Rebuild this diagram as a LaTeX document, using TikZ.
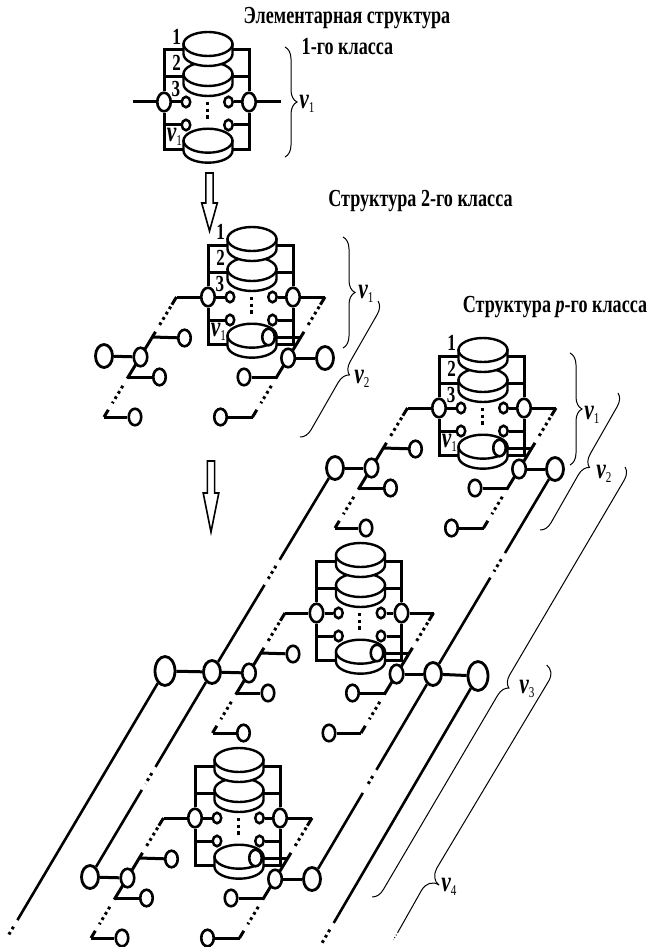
\documentclass[tikz,border=0pt]{standalone}
\usepackage{fontspec}
\setmainfont[FakeStretch=0.74]{Liberation Serif}
\usetikzlibrary{shapes.geometric,calc,decorations.pathreplacing}

\tikzset{
    wire/.style={line width=3pt},
    longwire/.style={line width=2.6pt},
    dotwire/.style={line width=3pt, dash pattern=on 2.8pt off 3.4pt},
    diskline/.style={line width=2.4pt, fill=white},
    smallnode/.style={ellipse, draw, fill=white, line width=2.5pt, inner sep=0pt, minimum width=8.5pt, minimum height=10.5pt},
    endnode/.style={ellipse, draw, fill=white, line width=2.6pt, inner sep=0pt, minimum width=12.5pt, minimum height=16.5pt},
    busnode/.style={ellipse, draw, fill=white, line width=2.6pt, inner sep=0pt, minimum width=13.5pt, minimum height=18.5pt},
    outernode/.style={ellipse, draw, fill=white, line width=2.8pt, inner sep=0pt, minimum width=17pt, minimum height=23pt},
    bignode/.style={ellipse, draw, fill=white, line width=2.8pt, inner sep=0pt, minimum width=20pt, minimum height=29pt},
    arrowbox/.style={line width=1.6pt, fill=white},
    bracket/.style={line width=1pt, decorate, decoration={brace, amplitude=12pt}},
    bracketplain/.style={line width=1pt},
    titletext/.style={font=\fontsize{24.5}{24.5}\selectfont\bfseries, inner sep=0pt},
    numtext/.style={font=\fontsize{23}{23}\selectfont\bfseries, inner sep=0pt},
    sizetext/.style={font=\fontsize{29}{29}\selectfont\bfseries\itshape, inner sep=0pt}
}

\newcommand{\sublab}[1]{\raisebox{-0.3ex}{\fontsize{15}{15}\selectfont\upshape\mdseries #1}}

% one disk: x, y of the top ellipse
\newcommand{\disk}[2]{
    \draw[diskline] (#1-24.5,#2) -- (#1-24.5,#2+10) arc[start angle=180, end angle=360, x radius=24.5pt, y radius=12pt] -- (#1+24.5,#2) -- cycle;
    \draw[diskline] (#1,#2) ellipse[x radius=24.5pt, y radius=12pt];
}

% elementary structure: x, y, name
\newcommand{\elemstruct}[3]{
    \begin{scope}[shift={(#1,#2)}]
        \coordinate (#3tl) at (-74,0);
        \coordinate (#3tr) at (74.5,0);
        \node[busnode] (#3L) at (-42.5,0) {};
        \node[busnode] (#3R) at (42.5,0) {};
        \node[smallnode] (#3a) at (-20.5,0) {};
        \node[smallnode] (#3b) at (22,0) {};
        \node[smallnode] (#3c) at (-20.5,23) {};
        \node[smallnode] (#3d) at (22,23) {};
        \draw[wire] (#3L) -- (-42.5,-52) -- (42.5,-52) -- (#3R);
        \draw[wire] (#3L) -- (-42.5,47) -- (42.5,47) -- (#3R);
        \draw[wire] (-42.5,-25) -- (42.5,-25);
        \draw[wire] (-42.5,23) -- (#3c);
        \draw[wire] (42.5,23) -- (#3d);
        \draw[wire] (#3L) -- (#3a);
        \draw[wire] (#3R) -- (#3b);
        \draw[wire] (#3tl) -- (#3L);
        \draw[wire] (#3R) -- (#3tr);
        \disk{1.5}{38.7}
        \disk{1.5}{-28}
        \disk{1.5}{-58}
        \draw[line width=3pt, dash pattern=on 3.3pt off 3.4pt] (0.5,0) -- (0.5,17);
    \end{scope}
}

% numbers beside the disks
\newcommand{\numlabels}[3]{
    \begin{scope}[shift={(#1,#2)}]
        \node[numtext] (#3n1) at (-29.8,-64.7) {1};
        \node[numtext] (#3n2) at (-29.8,-38.7) {2};
        \node[numtext] (#3n3) at (-30.5,-12.7) {3};
        \node[sizetext] (#3nv) at (-32,35) {v\sublab{1}};
    \end{scope}
}

% one slanted rail with two dotted stretches
\newcommand{\railside}[2]{
    \draw[wire] (#1) -- ($(#1)!.064!(#2)$);
    \draw[dotwire] ($(#1)!.08!(#2)$) -- ($(#1)!.245!(#2)$);
    \draw[wire] ($(#1)!.29!(#2)$) -- ($(#1)!.68!(#2)$);
    \draw[dotwire] ($(#1)!.74!(#2)$) -- ($(#1)!.885!(#2)$);
    \draw[wire] ($(#1)!.94!(#2)$) -- (#2);
}

% second class rails: x, y, name
\newcommand{\railstruct}[3]{
    \begin{scope}[shift={(#1,#2)}]
        \coordinate (#3bl) at (-146.5,120);
        \coordinate (#3br) at (2,120);
        \railside{#3tl}{#3bl}
        \railside{#3tr}{#3br}
        \coordinate (#3lu) at (-98.2,40);
        \coordinate (#3ld) at (-122.3,80);
        \coordinate (#3ru) at (50.3,40);
        \coordinate (#3rd) at (26.2,80);
        \node[endnode] (#3e1) at (-66,41) {};
        \node[endnode] (#3e2) at (-91,80) {};
        \node[endnode] (#3e3) at (-115.5,120) {};
        \node[endnode] (#3e4) at (18,40) {};
        \node[endnode] (#3e5) at (-6.5,80) {};
        \node[endnode] (#3e6) at (-30,120) {};
        \node[busnode] (#3P) at (-110,60) {};
        \node[busnode] (#3Q) at (37.6,61) {};
        \draw[wire] (#3lu) -- (#3e1);
        \draw[wire] (#3ld) -- (#3e2);
        \draw[wire] (#3bl) -- (#3e3);
        \draw[wire] (#3ru) -- (#3e4);
        \draw[wire] (#3rd) -- (#3e5);
        \draw[wire] (#3br) -- (#3e6);
    \end{scope}
}

% long line with one dotted stretch
\newcommand{\longline}[4]{
    \draw[longwire] (#1) -- ($(#1)!#3!(#2)$);
    \draw[dotwire] ($(#1)!#3+.03!(#2)$) -- ($(#1)!#4-.03!(#2)$);
    \draw[longwire] ($(#1)!#4!(#2)$) -- (#2);
}

% long line that runs out in dots
\newcommand{\runout}[3]{
    \draw[longwire] (#1) -- ($(#1)!#3!(#2)$);
    \draw[dotwire] ($(#1)!#3+.025!(#2)$) -- (#2);
}

% hollow arrow down: x of axis, y of top, y of head, y of tip
\newcommand{\hollowarrow}[4]{
    \draw[arrowbox] (#1-3.6,#2) -- (#1+3.6,#2) -- (#1+3.6,#3) -- (#1+7.8,#3) -- (#1,#4) -- (#1-7.8,#3) -- (#1-3.6,#3) -- cycle;
}

\begin{document}
\begin{tikzpicture}[x=1pt, y=-1pt]
    \useasboundingbox (0,0) rectangle (650,947);

    % titles
    \node[titletext] (title1) at (347,18) {Элементарная структура};
    \node[titletext] (title1b) at (347.5,47) {1-го класса};
    \node[titletext] (title2) at (420.5,201) {Структура 2-го класса};
    \node[titletext] (titlep) at (555,307) {Структура \textit{p}-го класса};

    % class 1
    \elemstruct{206.5}{102}{A}
    \numlabels{206.5}{102}{A}
    \draw[bracket] (285,47) -- (285,157);
    \node[sizetext] (vA) at (307,104) {v\sublab{1}};
    \hollowarrow{209.5}{173}{203}{231}

    % class 2
    \elemstruct{250.5}{297}{B}
    \numlabels{250.5}{297}{B}
    \railstruct{250.5}{297}{B}
    \node[outernode] (Bol) at (104,356) {};
    \node[outernode] (Bor) at (325,358) {};
    \draw[wire] (Bol) -- (BP);
    \draw[wire] (BQ) -- (Bor);
    \draw[bracket] (343,237) -- (343,348);
    \node[sizetext] (vB1) at (366,294) {v\sublab{1}};
    \draw[bracket] (378,301) -- (300,437);
    \node[sizetext] (vB2) at (362,379) {v\sublab{2}};
    \hollowarrow{211}{461}{493}{532}

    % class p, upper block
    \elemstruct{481.5}{408}{C}
    \numlabels{481.5}{408}{C}
    \railstruct{481.5}{408}{C}
    \node[outernode] (Col) at (335,468) {};
    \node[outernode] (Cor) at (555,469) {};
    \draw[wire] (Col) -- (CP);
    \draw[wire] (CQ) -- (Cor);

    % class p, middle block
    \elemstruct{359}{613}{D}
    \railstruct{359}{613}{D}
    \node[outernode] (Dol) at (212,672) {};
    \node[outernode] (Dor) at (433,674) {};
    \node[bignode] (Dbl) at (165,671) {};
    \node[bignode] (Dbr) at (478,676) {};
    \draw[wire] (Dbl) -- (Dol);
    \draw[wire] (Dol) -- (DP);
    \draw[wire] (DQ) -- (Dor);
    \draw[wire] (Dor) -- (Dbr);

    % class p, lower block
    \elemstruct{237.5}{818}{E}
    \railstruct{237.5}{818}{E}
    \node[outernode] (Eol) at (90,877) {};
    \node[outernode] (Eor) at (312,879) {};
    \draw[wire] (Eol) -- (EP);
    \draw[wire] (EQ) -- (Eor);

    % long lines
    \longline{Col}{Dol}{.45}{.573}
    \longline{Cor}{Dor}{.41}{.53}
    \longline{Dol}{Eol}{.463}{.575}
    \longline{Dor}{Eor}{.468}{.58}
    \coordinate (endl) at (8,936);
    \coordinate (endr) at (322,943);
    \runout{Dbl}{endl}{.94}
    \runout{Dbr}{endr}{.925}

    % braces of class p
    \draw[bracket] (570,353) -- (570,465);
    \node[sizetext] (vC1) at (592,415) {v\sublab{1}};
    \draw[bracket] (618,393) -- (540,530);
    \node[sizetext] (vC2) at (604,474) {v\sublab{2}};
    \draw[bracket] (625,467) -- (372,897);
    \node[sizetext] (vC3) at (527,689) {v\sublab{3}};
    \draw[bracketplain] (546.7,665) .. controls (551.5,669) and (552,675) .. (549.3,680) -- (436.7,868.3) .. controls (433.5,874) and (434,882) .. (439,885);
    \draw[bracketplain] (439,885) .. controls (433,881) and (426,883) .. (421.7,890) -- (398,932);
    \draw[bracketplain, dotted] (398,932) -- (393.3,940);
    \node[sizetext] (vC4) at (449,887) {v\sublab{4}};
\end{tikzpicture}
\end{document}
